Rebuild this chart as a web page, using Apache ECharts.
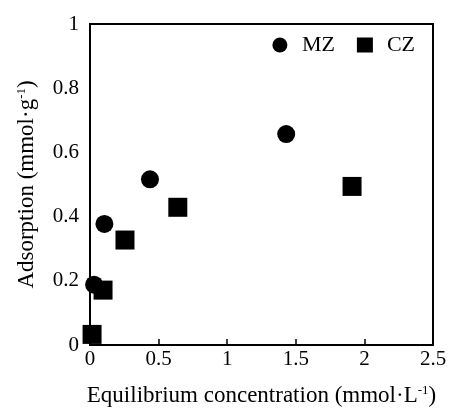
<!DOCTYPE html>
<html><head><meta charset="utf-8">
<script src="https://cdn.jsdelivr.net/npm/echarts@6/dist/echarts.min.js"></script>
<style>html,body{margin:0;padding:0;background:#fff}#c{width:451px;height:412px}</style>
</head><body><div id="c"></div>
<script>
var seriesNames = ['MZ', 'CZ'];
var mzX = [0.03, 0.105, 0.437, 1.43];
var mzY = [0.188, 0.377, 0.516, 0.657];
var czX = [0.015, 0.095, 0.255, 0.64, 1.91];
var czY = [0.033, 0.171, 0.327, 0.429, 0.494];
var xTicks = [0, 0.5, 1, 1.5, 2, 2.5];
var yTicks = [0, 0.2, 0.4, 0.6, 0.8, 1];

function pairs(xs, ys){ return xs.map(function(x,i){return [x, ys[i]];}); }
var font = 'Liberation Serif';
var chart = echarts.init(document.getElementById('c'), null, {renderer:'canvas'});
chart.setOption({
  animation:false,
  backgroundColor:'#fff',
  grid:{left:90, right:18, top:24, bottom:52, show:true, borderColor:'#000', borderWidth:2, backgroundColor:'transparent'},
  legend:{
    data:[{name:seriesNames[0], icon:'circle'},{name:seriesNames[1], icon:'rect'}],
    right:31, top:29, itemWidth:16, itemHeight:15, itemGap:22,
    textStyle:{fontFamily:font, fontSize:22, color:'#000', padding:[0,0,0,9]}
  },
  xAxis:{
    type:'value', min:xTicks[0], max:xTicks[xTicks.length-1], interval:0.5,
    axisLine:{show:true, lineStyle:{color:'#000', width:2}},
    axisTick:{show:true, inside:true, length:6, lineStyle:{color:'#000', width:1.5}},
    splitLine:{show:false},
    axisLabel:{fontFamily:font, fontSize:21, color:'#000', margin:4},
    name:'{t|Equilibrium concentration (mmol·L}{s|-1}{t|)}',
    nameLocation:'middle', nameGap:39,
    nameTextStyle:{rich:{t:{fontFamily:font, fontSize:23, color:'#000'}, s:{fontFamily:font, fontSize:13, color:'#000', verticalAlign:'top', padding:[0,0,10,0]}}}
  },
  yAxis:{
    type:'value', min:yTicks[0], max:yTicks[yTicks.length-1], interval:0.2,
    axisLine:{show:true, lineStyle:{color:'#000', width:2}},
    axisTick:{show:false},
    splitLine:{show:false},
    axisLabel:{fontFamily:font, fontSize:21, color:'#000', margin:11},
    name:'{t|Adsorption (mmol·g}{s|-1}{t|)}',
    nameLocation:'middle', nameGap:52, nameRotate:90,
    nameTextStyle:{rich:{t:{fontFamily:font, fontSize:23, color:'#000'}, s:{fontFamily:font, fontSize:13, color:'#000', verticalAlign:'top', padding:[0,0,10,0]}}}
  },
  series:[
    {name:seriesNames[0], type:'scatter', symbol:'circle', symbolSize:18, itemStyle:{color:'#000', opacity:1}, data:pairs(mzX, mzY)},
    {name:seriesNames[1], type:'scatter', symbol:'rect', symbolSize:19, itemStyle:{color:'#000', opacity:1}, data:pairs(czX, czY)}
  ]
});
</script></body></html>
